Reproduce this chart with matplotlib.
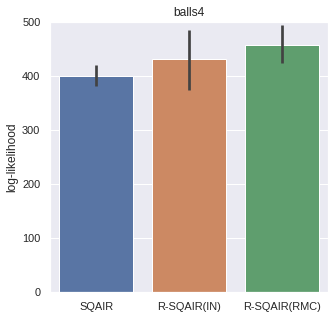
import numpy as np
import matplotlib
matplotlib.use("Agg")
import matplotlib.pyplot as plt
import seaborn as sns

models = ["SQAIR", "R-SQAIR(IN)", "R-SQAIR(RMC)"]
mean_ll = [400, 431, 458]
ci_low = [381, 375, 424]
ci_high = [421, 486, 494]

sns.set_theme(style="darkgrid")
plt.rcParams['font.family'] = ['Liberation Sans', 'DejaVu Sans']
colors = sns.color_palette("deep", 3)
colors = [sns.desaturate(c, 0.75) for c in colors]

fig = plt.figure(figsize=(335 / 72, 319 / 72), dpi=72)
ax = fig.add_axes([50 / 335, 27 / 319, 278 / 335, 270 / 319])

x = np.arange(len(models))
mean = np.array(mean_ll)
yerr = np.vstack([mean - np.array(ci_low), np.array(ci_high) - mean])

ax.bar(x, mean, width=0.8, color=colors, edgecolor="white", linewidth=1)
ax.errorbar(x, mean, yerr=yerr, fmt="none", ecolor=".26", elinewidth=2.7, capsize=0)

ax.set_xticks(x)
ax.set_xticklabels(models)
ax.set_xlim(-0.5, len(models) - 0.5)
ax.set_ylim(0, 500)
ax.set_yticks([0, 100, 200, 300, 400, 500])
ax.grid(axis="x", visible=False)
ax.set_ylabel("log-likelihood", fontsize=12)
ax.set_title("balls4", fontsize=12)
ax.tick_params(labelsize=11)

fig.savefig("out.png", dpi=72)
